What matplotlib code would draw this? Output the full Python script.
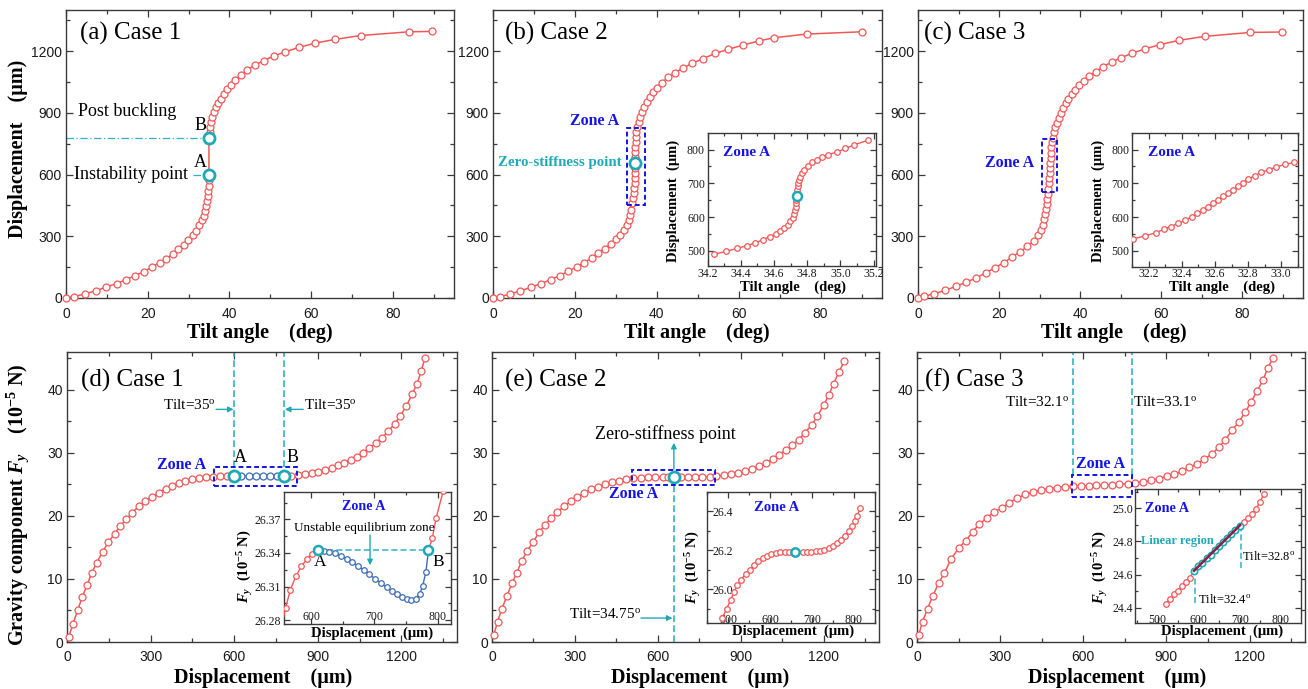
import matplotlib
matplotlib.use("Agg")
import numpy as np
import matplotlib.pyplot as plt
from matplotlib.ticker import MultipleLocator
from matplotlib.patches import Rectangle

plt.rcParams['font.family'] = ['Liberation Serif', 'DejaVu Serif']
plt.rcParams['mathtext.fontset'] = 'custom'
plt.rcParams['mathtext.rm'] = 'Liberation Serif'
plt.rcParams['mathtext.it'] = 'Liberation Serif:italic'
plt.rcParams['mathtext.bf'] = 'Liberation Serif:bold'
try:
    plt.rcParams['mathtext.bfit'] = 'Liberation Serif:bold:italic'
    FY = r'$\mathbfit{F}_{\mathbfit{y}}$'
except KeyError:
    FY = r'$\mathbf{F}_{\mathbf{y}}$'

# ---------------- data ----------------
# (a) Case 1: tilt angle vs displacement (stable branches, A -> B jump)
tilt_a = [0, 2.0, 4.7, 7.4, 9.9, 12.4, 14.7, 16.9, 19.1, 21.0, 22.9, 24.5, 26.1, 27.5, 28.8,
          29.9, 31.0, 31.9, 32.6, 33.2, 33.7, 34.1, 34.4, 34.6, 34.75, 34.87, 34.94, 34.98, 35.0,
          35.0, 35.2, 35.3, 35.5, 35.8, 36.2, 36.7, 37.2, 37.9, 38.6, 39.4, 40.3, 41.5, 42.9,
          44.4, 46.3, 48.4, 50.9, 53.7, 57.0, 61.0, 65.8, 72.2, 84.0, 89.6]
disp_a = [0, 7, 20, 36, 54, 70, 89, 109, 128, 151, 171, 190, 213, 236, 257,
          281, 306, 328, 353, 377, 400, 424, 449, 473, 498, 522, 546, 572, 600,
          780, 805, 829, 854, 878, 902, 927, 950, 969, 992, 1016, 1036, 1062, 1085,
          1109, 1132, 1154, 1176, 1197, 1218, 1239, 1257, 1276, 1294, 1296]
point_A = (35.0, 600)
point_B = (35.0, 780)

# (b) Case 2
tilt_b = [0, 1.6, 4.1, 6.7, 9.2, 11.7, 14.1, 16.3, 18.4, 20.4, 22.3, 24.1, 25.7, 27.3, 28.7,
          30.0, 31.1, 32.0, 32.7, 33.2, 33.55, 33.8, 34.02, 34.22, 34.40, 34.54, 34.637, 34.692,
          34.722, 34.731, 34.738, 34.742, 34.752, 34.78, 34.826, 34.91, 35.04, 35.25, 35.55, 35.9,
          36.4, 36.9, 37.5, 38.3, 39.1, 40.1, 41.2, 42.7, 44.4, 46.3, 48.6, 51.3, 54.3, 57.3,
          61.0, 65.0, 68.6, 76.6, 90.0]
disp_b = [0, 6, 19, 34, 52, 70, 89, 109, 130, 151, 172, 195, 217, 240, 263,
          285, 308, 332, 357, 381, 405, 430, 462, 486, 511, 535, 559, 584,
          608, 632, 658, 686, 710, 734, 759, 783, 807, 832, 856, 880,
          905, 929, 953, 978, 999, 1023, 1046, 1072, 1095, 1117, 1140, 1164, 1189, 1208,
          1229, 1250, 1265, 1283, 1294]
zero_b = (34.738, 658)
# inset (b)
tilt_bi = [34.238, 34.311, 34.375, 34.434, 34.486, 34.533, 34.575, 34.613, 34.638, 34.662,
           34.684, 34.698, 34.714, 34.722, 34.726, 34.730, 34.732, 34.734, 34.738, 34.738,
           34.740, 34.742, 34.746, 34.752, 34.758, 34.768, 34.780, 34.803, 34.829, 34.859,
           34.890, 34.926, 34.978, 35.031, 35.085, 35.164]
disp_bi = [490, 498, 507, 515, 523, 533, 542, 551, 560, 568,
           577, 588, 598, 609, 620, 631, 641, 651, 661, 671,
           681, 691, 701, 711, 720, 730, 740, 752, 762, 770,
           778, 785, 792, 803, 814, 827]

# (c) Case 3
tilt_c = [0, 1.4, 4.0, 6.7, 9.4, 11.8, 14.3, 16.7, 19.1, 21.2, 23.2, 25.2, 27.0, 28.5, 29.7,
          30.3, 30.8, 31.15, 31.4, 31.6, 31.75, 31.9, 32.0, 32.09, 32.26, 32.38, 32.48, 32.56,
          32.64, 32.71, 32.785, 32.88, 33.03, 33.25, 33.55, 33.85, 34.25, 34.7, 35.2, 35.8,
          36.4, 37.1, 37.9, 38.8, 39.8, 40.9, 42.3, 43.9, 45.7, 47.8, 50.2, 52.9, 56.0, 59.8,
          64.3, 70.8, 82.0, 89.8]
disp_c = [0, 8, 21, 37, 57, 76, 97, 122, 148, 172, 199, 224, 251, 277, 305,
          330, 356, 382, 407, 432, 457, 482, 507, 532, 557, 582, 607, 632,
          657, 682, 707, 732, 757, 780, 805, 829, 853, 877, 900, 923,
          946, 968, 990, 1012, 1034, 1056, 1078, 1101, 1124, 1147, 1169, 1190, 1211, 1232,
          1252, 1272, 1291, 1293]
tilt_ci = [32.102, 32.176, 32.246, 32.29, 32.332, 32.377, 32.421, 32.459, 32.493, 32.527,
           32.559, 32.589, 32.619, 32.649, 32.679, 32.709, 32.739, 32.769, 32.801, 32.839,
           32.880, 32.924, 32.970, 33.024, 33.080]
disp_ci = [535, 544, 554, 564, 571.5, 581, 591, 601, 611, 621,
           631, 641, 651, 661, 671, 681, 691, 702, 713, 722,
           732, 740, 748, 756, 762]

# (d) Case 1: gravity component vs displacement
disp_d_lo = [6, 21, 38, 55, 72, 88, 107, 128, 148, 171, 191, 213, 234, 257, 280, 305, 329, 354,
             377, 401, 425, 449, 474, 498, 523, 549, 573, 600]
fy_d_lo = [0.8, 2.8, 5.0, 7.2, 9.0, 10.9, 12.6, 14.3, 15.8, 17.2, 18.4, 19.5, 20.5, 21.5, 22.3,
           23.0, 23.7, 24.3, 24.7, 25.2, 25.5, 25.8, 26.0, 26.15, 26.25, 26.3, 26.33, 26.34]
disp_d_un = [600, 626, 652, 678, 703, 729, 755, 780]
fy_d_un = [26.34, 26.33, 26.32, 26.31, 26.30, 26.30, 26.31, 26.34]
disp_d_hi = [780, 805, 829, 854, 878, 902, 927, 950, 972, 995, 1018, 1040, 1062, 1085, 1108,
             1131, 1153, 1176, 1197, 1218, 1239, 1257, 1272, 1285]
fy_d_hi = [26.34, 26.4, 26.5, 26.6, 26.8, 27.0, 27.3, 27.6, 28.0, 28.4, 28.9, 29.4, 30.0, 30.7,
           31.5, 32.4, 33.4, 34.6, 35.9, 37.4, 39.3, 41.0, 43.0, 45.1]
# inset (d)
disp_di_lo = [553, 560, 567.5, 576, 585, 594, 602, 611]
fy_di_lo = [26.272, 26.291, 26.307, 26.319, 26.328, 26.335, 26.3395, 26.3424]
disp_di_un = [611, 620, 629, 638, 647, 656, 665, 674, 683, 692, 701, 710, 719, 727, 735, 743,
              751, 758, 765, 771, 776, 781, 785]
fy_di_un = [26.3424, 26.3421, 26.3412, 26.3397, 26.3376, 26.3350, 26.3319, 26.3284, 26.3247,
            26.3208, 26.3169, 26.3131, 26.3094, 26.3061, 26.3033, 26.3006, 26.2988, 26.2981,
            26.2992, 26.3030, 26.3108, 26.3230, 26.3424]
disp_di_hi = [785, 791, 797, 808, 818]
fy_di_hi = [26.3424, 26.353, 26.371, 26.395, 26.42]

# (e) Case 2
disp_e = [6, 20, 36, 54, 72, 90, 108, 128, 150, 170, 192, 213, 236, 260, 284, 308, 333, 359,
          384, 410, 435, 461, 485, 511, 538, 564, 590, 617, 637, 658, 683, 708, 734, 760, 787,
          812, 838, 865, 890, 916, 940, 966, 992, 1016, 1039, 1063, 1086, 1110, 1132, 1156,
          1177, 1200, 1219, 1236, 1256, 1275]
fy_e = [1.06, 3.2, 5.3, 7.3, 9.3, 11.0, 12.9, 14.5, 15.9, 17.4, 18.6, 19.6, 20.6, 21.5, 22.3,
        23.0, 23.6, 24.2, 24.6, 25.0, 25.35, 25.6, 25.8, 25.95, 26.05, 26.1, 26.13, 26.15,
        26.16, 26.16, 26.16, 26.17, 26.18, 26.2, 26.22, 26.3, 26.45, 26.6, 26.8, 27.1, 27.5,
        27.9, 28.4, 29.0, 29.7, 30.4, 31.2, 32.1, 33.2, 34.4, 35.8, 37.6, 39.2, 41.0, 42.9, 44.6]
zero_e = (658, 26.16)
disp_ei = [486, 496, 505.6, 513.6, 521.6, 531, 541.6, 552, 561.6, 572, 582.4, 592.8, 603, 614,
           625, 635, 645, 660, 678, 688, 698, 709, 719, 730, 740, 750, 760, 770, 779, 788,
           796, 802, 808, 816]
fy_ei = [25.853, 25.90, 25.944, 25.985, 26.02, 26.05, 26.079, 26.10, 26.123, 26.144, 26.159,
         26.173, 26.181, 26.188, 26.191, 26.193, 26.193, 26.193, 26.191, 26.191, 26.193, 26.195,
         26.198, 26.203, 26.212, 26.222, 26.236, 26.253, 26.273, 26.297, 26.323, 26.349,
         26.378, 26.414]
zero_ei = (660, 26.193)

# (f) Case 3
disp_f = [6, 20, 38, 57, 78, 99, 123, 150, 177, 201, 225, 251, 277, 307, 333, 361, 390, 418,
          446, 475, 504, 533, 562, 590, 619, 646, 674, 703, 730, 760, 788, 817, 845, 872, 901,
          929, 957, 983, 1011, 1037, 1064, 1089, 1113, 1137, 1161, 1185, 1206, 1227, 1248,
          1266, 1284]
fy_f = [1.1, 3.2, 5.3, 7.3, 9.3, 11.0, 13.1, 14.9, 16.1, 17.5, 18.7, 19.6, 20.6, 21.3, 22.1,
        22.8, 23.4, 23.8, 24.1, 24.3, 24.5, 24.6, 24.7, 24.75, 24.8, 24.85, 24.9, 24.96, 25.0,
        25.1, 25.3, 25.4, 25.65, 25.9, 26.3, 26.6, 27.1, 27.7, 28.3, 29.0, 29.8, 30.9, 32.1,
        33.6, 34.9, 36.5, 38.1, 39.8, 41.5, 43.5, 45.0]
disp_fi_lo = [519.5, 529, 539, 549, 558.5, 568, 578, 588.6]
fy_fi_lo = [24.42, 24.45, 24.48, 24.504, 24.53, 24.554, 24.58, 24.624]
disp_fi_lin = [588.6, 599, 609, 619, 629, 639, 649, 659, 669, 679, 689, 700.8]
fy_fi_lin = [24.624, 24.649, 24.671, 24.698, 24.721, 24.748, 24.771, 24.797, 24.823, 24.846,
             24.872, 24.896]
disp_fi_hi = [700.8, 710, 720, 729, 739, 749, 758]
fy_fi_hi = [24.896, 24.92, 24.944, 24.968, 24.994, 25.04, 25.084]

# ---------------- styling ----------------
W, H = 1308, 689
RED = '#F05858'
CYAN = '#1FA9B6'
DCYAN = '#2BB4C4'
BLUE_T = '#1414E8'
BLUE_P = '#3D6DB5'
SPINE = '#3a3a3a'

fig = plt.figure(figsize=(W / 100, H / 100), dpi=100)


def box(l, t, r, b):
    return [l / W, 1 - b / H, (r - l) / W, (b - t) / H]


def style(ax, xmaj, xmin, ymaj, ymin, size=10, family='Liberation Sans', xpad=6.5, ypad=3,
          lw=1.0, maj=5, mnr=3):
    ax.xaxis.set_major_locator(MultipleLocator(xmaj))
    ax.xaxis.set_minor_locator(MultipleLocator(xmin))
    ax.yaxis.set_major_locator(MultipleLocator(ymaj))
    ax.yaxis.set_minor_locator(MultipleLocator(ymin))
    ax.tick_params(which='both', direction='in', top=True, right=True, colors=SPINE,
                   labelcolor='#1a1a1a', width=0.9)
    ax.tick_params(which='major', length=maj)
    ax.tick_params(which='minor', length=mnr)
    ax.tick_params(axis='x', pad=xpad, labelsize=size, labelfontfamily=family)
    ax.tick_params(axis='y', pad=ypad, labelsize=size, labelfontfamily=family)
    for s in ax.spines.values():
        s.set_color(SPINE)
        s.set_linewidth(lw)


def curve(ax, x, y, color=RED, ms=5, clip=False, lw=1.1, z=3):
    ax.plot(x, y, '-o', color=color, lw=lw, ms=ms, mfc='white', mec=color, mew=0.9,
            clip_on=clip, zorder=z)


def big(ax, x, y, ms=8, mew=2.0):
    ax.plot(x, y, 'o', ms=ms, mfc='white', mec=CYAN, mew=mew, zorder=6, clip_on=False)


def zone_rect(ax, x0, y0, x1, y1):
    ax.add_patch(Rectangle((x0, y0), x1 - x0, y1 - y0, fill=False, ls=(0, (2.5, 1.5)),
                           ec=BLUE_T, lw=1.4, zorder=7))


def arrow(ax, xy, xytext, color=CYAN):
    ax.annotate('', xy=xy, xytext=xytext,
                arrowprops=dict(arrowstyle='-|>', color=color, lw=1.0, mutation_scale=8,
                                shrinkA=0, shrinkB=0), zorder=8)


LBL = dict(fontsize=14.5, fontweight='bold', ha='center', va='center')
TITLE = dict(fontsize=18, ha='left', va='center')

# ---------------- top row ----------------
ax_a = fig.add_axes(box(66, 10, 454, 298))
ax_b = fig.add_axes(box(493, 10, 882, 298))
ax_c = fig.add_axes(box(918, 10, 1303, 298))
for ax in (ax_a, ax_b, ax_c):
    ax.set_xlim(0, 95)
    ax.set_ylim(0, 1400)
    style(ax, 20, 10, 300, 150)

curve(ax_a, tilt_a, disp_a)
ax_a.plot([0, point_B[0]], [point_B[1], point_B[1]], color=DCYAN, lw=0.9,
          ls=(0, (6, 2, 1, 2)), zorder=2)
ax_a.plot([31.2, point_A[0]], [point_A[1], point_A[1]], color=DCYAN, lw=0.9,
          ls=(0, (6, 2, 1, 2)), zorder=2)
big(ax_a, *point_A)
big(ax_a, *point_B)
ax_a.text(2.9, 907, 'Post buckling', fontsize=13, ha='left', va='center')
ax_a.text(2.0, 600, 'Instability point', fontsize=13, ha='left', va='center')
ax_a.text(33.0, 658, 'A', fontsize=13, ha='center', va='center')
ax_a.text(33.0, 839, 'B', fontsize=13, ha='center', va='center')
ax_a.text(0.036, 0.92, '(a) Case 1', transform=ax_a.transAxes, **TITLE)

curve(ax_b, tilt_b, disp_b)
big(ax_b, *zero_b)
zone_rect(ax_b, 32.8, 454, 37.0, 828)
ax_b.text(24.9, 860, 'Zone A', fontsize=11.5, fontweight='bold', color=BLUE_T,
          ha='center', va='center')
ax_b.text(16.4, 660, 'Zero-stiffness point', fontsize=10.7, fontweight='bold', color=CYAN,
          ha='center', va='center')
ax_b.text(0.031, 0.92, '(b) Case 2', transform=ax_b.transAxes, **TITLE)

curve(ax_c, tilt_c, disp_c)
zone_rect(ax_c, 30.6, 514, 34.4, 771)
ax_c.text(22.7, 654, 'Zone A', fontsize=11.5, fontweight='bold', color=BLUE_T,
          ha='center', va='center')
ax_c.text(0.016, 0.92, '(c) Case 3', transform=ax_c.transAxes, **TITLE)

fig.text(18 / W, 1 - 149 / H, 'Displacement    (\u03bcm)', rotation=90, **LBL)
for xc in (260, 697, 1114):
    fig.text(xc / W, 1 - 332.7 / H, 'Tilt angle    (deg)', **LBL)

# insets top row
INS_LBL = dict(fontsize=10.5, fontweight='bold', ha='center', va='center')
ib = fig.add_axes(box(707.7, 133.3, 876, 266))
ib.set_xlim(34.2, 35.215)
ib.set_ylim(455, 848)
style(ib, 0.2, 0.1, 100, 50, size=8.5, family='Liberation Serif', xpad=1.2, ypad=2,
      lw=1.0, maj=4, mnr=2)
ib.xaxis.set_major_formatter(plt.FuncFormatter(lambda v, p: f'{v:.1f}'))
curve(ib, tilt_bi, disp_bi, ms=4, clip=True, lw=1.0)
big(ib, 34.738, 661, ms=6.5, mew=1.8)
ib.text(0.233, 0.855, 'Zone A', transform=ib.transAxes, fontsize=11, fontweight='bold',
        color=BLUE_T, ha='center', va='center')
fig.text(673.3 / W, 1 - 201 / H, 'Displacement  (\u03bcm)', rotation=90, **INS_LBL)
fig.text(792.5 / W, 1 - 287.5 / H, 'Tilt angle    (deg)', **INS_LBL)

ic = fig.add_axes(box(1132.3, 133.3, 1297.7, 266.7))
ic.set_xlim(32.1, 33.1)
ic.set_ylim(453, 848)
style(ic, 0.2, 0.1, 100, 50, size=8.5, family='Liberation Serif', xpad=1.2, ypad=2,
      lw=1.0, maj=4, mnr=2)
ic.xaxis.set_major_formatter(plt.FuncFormatter(lambda v, p: f'{v:.1f}'))
curve(ic, tilt_ci, disp_ci, ms=4, clip=True, lw=1.0)
ic.text(0.24, 0.855, 'Zone A', transform=ic.transAxes, fontsize=11, fontweight='bold',
        color=BLUE_T, ha='center', va='center')
fig.text(1098.3 / W, 1 - 201 / H, 'Displacement  (\u03bcm)', rotation=90, **INS_LBL)
fig.text(1221.7 / W, 1 - 287.5 / H, 'Tilt angle    (deg)', **INS_LBL)

# ---------------- bottom row ----------------
ax_d = fig.add_axes(box(67, 352, 457, 642))
ax_e = fig.add_axes(box(492, 352, 879, 642))
ax_f = fig.add_axes(box(917, 352, 1305, 642))
for ax in (ax_d, ax_e, ax_f):
    ax.set_xlim(0, 1400)
    ax.set_ylim(0, 46)
    style(ax, 300, 150, 10, 5, xpad=5.8)

# (d)
curve(ax_d, disp_d_lo, fy_d_lo)
curve(ax_d, disp_d_un, fy_d_un, color=BLUE_P)
curve(ax_d, disp_d_hi, fy_d_hi)
big(ax_d, 600, 26.34)
big(ax_d, 780, 26.34)
zone_rect(ax_d, 527, 24.8, 827, 27.7)
for xv in (600, 780):
    ax_d.plot([xv, xv], [27.8, 46], color=DCYAN, lw=1.2, ls=(0, (4, 2)), zorder=2)
arrow(ax_d, (598, 36.9), (535, 36.9))
arrow(ax_d, (782, 36.9), (848, 36.9))
ax_d.text(533, 37.6, 'Tilt=35$^\\mathrm{o}$', fontsize=11, ha='right', va='center')
ax_d.text(852, 37.6, 'Tilt=35$^\\mathrm{o}$', fontsize=11, ha='left', va='center')
ax_d.text(622, 29.2, 'A', fontsize=13, ha='center', va='center')
ax_d.text(809, 29.2, 'B', fontsize=13, ha='center', va='center')
ax_d.text(411, 28.1, 'Zone A', fontsize=11.5, fontweight='bold', color=BLUE_T,
          ha='center', va='center')
ax_d.text(0.036, 0.903, '(d) Case 1', transform=ax_d.transAxes, **TITLE)

# (e)
curve(ax_e, disp_e, fy_e)
big(ax_e, *zero_e)
zone_rect(ax_e, 506, 24.96, 805, 27.35)
ax_e.plot([zero_e[0], zero_e[0]], [0, 25.2], color=DCYAN, lw=1.2, ls=(0, (4, 2)), zorder=2)
arrow(ax_e, (zero_e[0], 31.6), (zero_e[0], 27.4))
arrow(ax_e, (653, 3.8), (539, 3.8))
ax_e.text(539, 4.4, 'Tilt=34.75$^\\mathrm{o}$', fontsize=11, ha='right', va='center')
ax_e.text(628, 33.0, 'Zero-stiffness point', fontsize=13, ha='center', va='center')
ax_e.text(511, 23.4, 'Zone A', fontsize=11.5, fontweight='bold', color=BLUE_T,
          ha='center', va='center')
ax_e.text(0.034, 0.903, '(e) Case 2', transform=ax_e.transAxes, **TITLE)

# (f)
curve(ax_f, disp_f, fy_f)
zone_rect(ax_f, 558, 22.94, 775, 26.44)
for xv in (562, 775):
    ax_f.plot([xv, xv], [26.5, 46], color=DCYAN, lw=1.2, ls=(0, (4, 2)), zorder=2)
ax_f.text(550, 38.0, 'Tilt=32.1$^\\mathrm{o}$', fontsize=11, ha='right', va='center')
ax_f.text(781, 38.0, 'Tilt=33.1$^\\mathrm{o}$', fontsize=11, ha='left', va='center')
ax_f.text(663, 28.2, 'Zone A', fontsize=11.5, fontweight='bold', color=BLUE_T,
          ha='center', va='center')
ax_f.text(0.021, 0.903, '(f) Case 3', transform=ax_f.transAxes, **TITLE)

fig.text(18 / W, 1 - 505 / H, 'Gravity component ' + FY + '    (10$^{\\mathbf{-5}}$ N)',
         rotation=90, **LBL)
for xc in (263, 700, 1117):
    fig.text(xc / W, 1 - 678 / H, 'Displacement    (\u03bcm)', **LBL)

# insets bottom row
idd = fig.add_axes(box(284, 492, 451, 624))
idd.set_xlim(557.5, 820.5)
idd.set_ylim(26.2765, 26.3945)
style(idd, 100, 50, 0.03, 0.015, size=8.5, family='Liberation Serif', xpad=-9.4, ypad=2,
      lw=1.0, maj=4, mnr=2)
idd.yaxis.set_major_formatter(plt.FuncFormatter(lambda v, p: f'{v:.2f}'))
curve(idd, disp_di_lo, fy_di_lo, ms=4, clip=True, lw=1.0)
curve(idd, disp_di_un, fy_di_un, color=BLUE_P, ms=4, clip=True, lw=1.0)
curve(idd, disp_di_hi, fy_di_hi, ms=4, clip=True, lw=1.0)
idd.plot([611, 785], [26.3424, 26.3424], color=DCYAN, lw=1.1, ls=(0, (4, 2)), zorder=2)
big(idd, 611, 26.3424, ms=6.5, mew=1.8)
big(idd, 785, 26.3424, ms=6.5, mew=1.8)
arrow(idd, (693, 26.329), (693, 26.356))
idd.text(0.475, 0.889, 'Zone A', transform=idd.transAxes, fontsize=10.2, fontweight='bold',
         color=BLUE_T, ha='center', va='center')
idd.text(0.478, 0.73, 'Unstable equilibrium zone', transform=idd.transAxes, fontsize=9.5,
         ha='center', va='center')
idd.text(614, 26.332, 'A', fontsize=12.5, ha='center', va='center')
idd.text(801, 26.3315, 'B', fontsize=12.5, ha='center', va='center')
fig.text(245 / W, 1 - 566.7 / H, FY + '  (10$^{\\mathbf{-5}}$ N)', rotation=90, **INS_LBL)
fig.text(371.7 / W, 1 - 633.3 / H, 'Displacement  (\u03bcm)', **INS_LBL)

ie = fig.add_axes(box(707.3, 491.7, 875, 623.3))
ie.set_xlim(450, 851)
ie.set_ylim(25.826, 26.5)
style(ie, 100, 50, 0.2, 0.1, size=8.5, family='Liberation Serif', xpad=-6.7, ypad=-18.5,
      lw=1.0, maj=4, mnr=2)
ie.yaxis.set_major_formatter(plt.FuncFormatter(lambda v, p: f'{v:.1f}'))
curve(ie, disp_ei, fy_ei, ms=4, clip=True, lw=1.0)
big(ie, *zero_ei, ms=6, mew=1.8)
ie.text(0.414, 0.878, 'Zone A', transform=ie.transAxes, fontsize=10.5, fontweight='bold',
        color=BLUE_T, ha='center', va='center')
fig.text(693.3 / W, 1 - 567.5 / H, FY + '  (10$^{\\mathbf{-5}}$ N)', rotation=90, **INS_LBL)
fig.text(793.3 / W, 1 - 631.7 / H, 'Displacement  (\u03bcm)', **INS_LBL)

iff = fig.add_axes(box(1135, 489, 1300.7, 623.3))
iff.set_xlim(445, 848)
iff.set_ylim(24.306, 25.117)
style(iff, 100, 50, 0.2, 0.1, size=8.5, family='Liberation Serif', xpad=-6.7, ypad=1.5,
      lw=1.0, maj=4, mnr=2)
iff.yaxis.set_major_formatter(plt.FuncFormatter(lambda v, p: f'{v:.1f}'))
curve(iff, disp_fi_lo + disp_fi_lin[1:] + disp_fi_hi[1:], fy_fi_lo + fy_fi_lin[1:] + fy_fi_hi[1:],
      ms=4, clip=True, lw=1.0)
iff.plot(disp_fi_lin, fy_fi_lin, 'o', ms=4.5, mfc='white', mec=CYAN, mew=1.2, zorder=5)
coef = np.polyfit(disp_fi_lin, fy_fi_lin, 1)
xs = np.array([disp_fi_lin[0], disp_fi_lin[-1]])
iff.plot(xs, np.polyval(coef, xs), color='#8E1F3F', lw=1.8, zorder=6)
iff.plot([590, 590], [24.43, 24.58], color=DCYAN, lw=1.1, ls=(0, (4, 2)))
iff.plot([703, 703], [24.64, 24.88], color=DCYAN, lw=1.1, ls=(0, (4, 2)))
iff.text(599, 24.45, 'Tilt=32.4$^\\mathrm{o}$', fontsize=9, ha='left', va='center')
iff.text(706, 24.71, 'Tilt=32.8$^\\mathrm{o}$', fontsize=9, ha='left', va='center')
iff.text(547, 24.8, 'Linear region', fontsize=9, fontweight='bold', color=CYAN,
         ha='center', va='center')
iff.text(524, 25.0, 'Zone A', fontsize=10.3, fontweight='bold', color=BLUE_T,
         ha='center', va='center')
fig.text(1100 / W, 1 - 567 / H, FY + '  (10$^{\\mathbf{-5}}$ N)', rotation=90, **INS_LBL)
fig.text(1222 / W, 1 - 631.7 / H, 'Displacement  (\u03bcm)', **INS_LBL)

fig.savefig('out.png', dpi=100)
